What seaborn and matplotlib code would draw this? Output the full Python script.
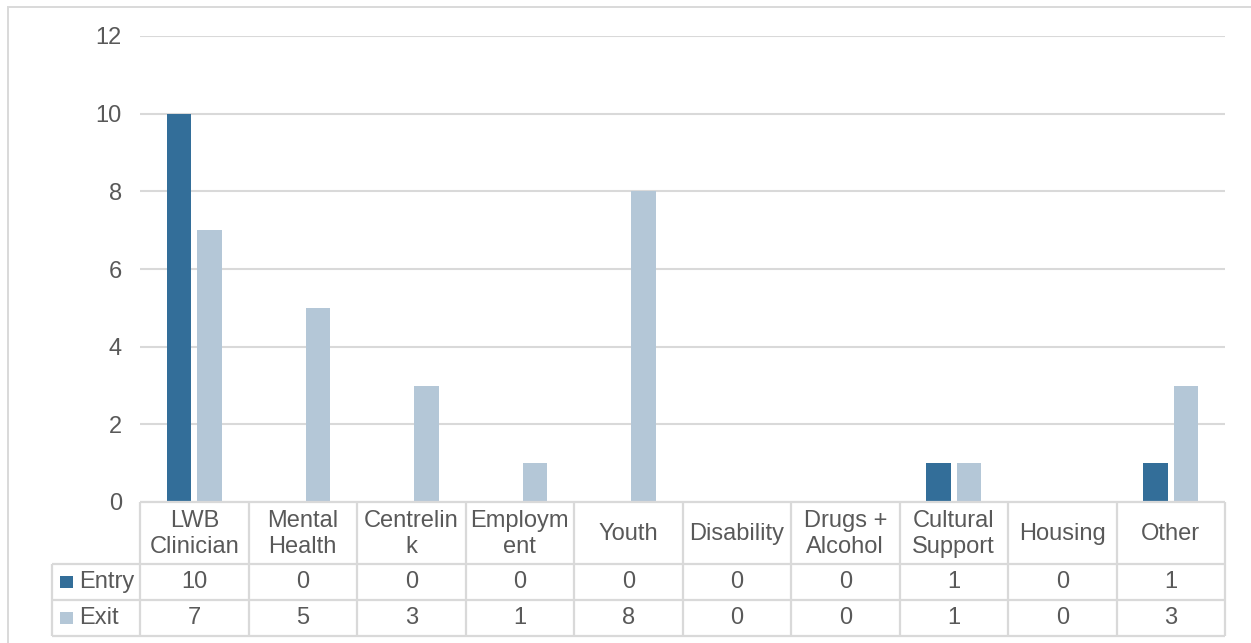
import matplotlib
matplotlib.use("Agg")
import matplotlib.pyplot as plt
from matplotlib.patches import Rectangle
from matplotlib.transforms import blended_transform_factory
import pandas as pd
import seaborn as sns

# Service categories and counts at entry / exit
categories = ["LWB\nClinician", "Mental\nHealth", "Centrelin\nk", "Employm\nent", "Youth",
              "Disability", "Drugs +\nAlcohol", "Cultural\nSupport", "Housing", "Other"]
series_names = ["Entry", "Exit"]
entry_values = [10, 0, 0, 0, 0, 0, 0, 1, 0, 1]
exit_values = [7, 5, 3, 1, 8, 0, 0, 1, 0, 3]
y_ticks = [0, 2, 4, 6, 8, 10, 12]

colors = {"Entry": "#336E99", "Exit": "#B4C7D7"}
text_color = "#595959"
line_color = "#D9D9D9"
fs = 17

df = pd.DataFrame({
    "category": categories * 2,
    "series": [series_names[0]] * len(categories) + [series_names[1]] * len(categories),
    "value": entry_values + exit_values,
})

sns.set_theme(style="white")
plt.rcParams["font.family"] = ["Liberation Sans", "DejaVu Sans"]

W, H = 1251, 643
fig = plt.figure(figsize=(W / 100, H / 100), dpi=100)

# plot area in pixel terms
left_px, right_px, top_px, base_px = 140, 1225, 36, 502
ax = fig.add_axes([left_px / W, 1 - base_px / H, (right_px - left_px) / W, (base_px - top_px) / H])

sns.barplot(data=df, x="category", y="value", hue="series", hue_order=series_names,
            palette=colors, saturation=1, width=0.5625, gap=0.2, linewidth=0, ax=ax,
            legend=False)

ax.set_ylim(0, 12)
ax.set_xlim(-0.5, len(categories) - 0.5)
ax.set_yticks(y_ticks)
ax.set_yticklabels([str(t) for t in y_ticks], fontsize=fs, color=text_color)
ax.tick_params(axis="y", length=0, pad=13)
ax.set_xticks([])
ax.set_xlabel("")
ax.set_ylabel("")
for s in ax.spines.values():
    s.set_visible(False)
ax.yaxis.grid(True, color=line_color, linewidth=1.5)
ax.set_axisbelow(True)

# data table below the plot
ah = base_px - top_px
def ay(py):
    return (base_px - py) / ah

def ax_x(px):
    return (px - left_px) / (right_px - left_px)

tr = blended_transform_factory(ax.transData, ax.transAxes)
n = len(categories)
y_hdr, y_r1, y_r2 = ay(564), ay(600), ay(635.5)
lw = 1.6
line_kw = dict(color=line_color, linewidth=lw, clip_on=False, solid_capstyle="butt")

# horizontal rules
ax.plot([-0.5, n - 0.5], [0, 0], transform=tr, **line_kw)
for yy in (y_hdr, y_r1, y_r2):
    ax.plot([ax_x(52), 1], [yy, yy], transform=ax.transAxes, **line_kw)
# vertical rules
for i in range(n + 1):
    ax.plot([i - 0.5, i - 0.5], [0, y_r2], transform=tr, **line_kw)
ax.plot([ax_x(52), ax_x(52)], [y_hdr, y_r2], transform=ax.transAxes, **line_kw)

# header labels and values
y_hdr_c = ay(534)
row_centers = [ay(582), ay(618)]
for i, cat in enumerate(categories):
    ax.text(i, y_hdr_c, cat, transform=tr, ha="center", va="center", fontsize=fs,
            color=text_color, linespacing=1.25, clip_on=False)
    for vals, yc in zip((entry_values, exit_values), row_centers):
        ax.text(i, yc, str(vals[i]), transform=tr, ha="center", va="center", fontsize=fs,
                color=text_color, clip_on=False)

# legend keys inside the table
for name, yc in zip(series_names, row_centers):
    ax.add_patch(Rectangle((ax_x(60), yc - 6 / ah), 12.5 / (right_px - left_px), 12 / ah,
                           transform=ax.transAxes, facecolor=colors[name], edgecolor="none",
                           clip_on=False))
    ax.text(ax_x(79), yc, name, transform=ax.transAxes, ha="left", va="center", fontsize=fs,
            color=text_color, clip_on=False)

# chart frame
fig.patches.append(Rectangle((7.5 / W, -0.1), 1.2, 1 - 6.5 / H + 0.1, transform=fig.transFigure,
                             facecolor="none", edgecolor=line_color, linewidth=1.4))

fig.savefig("out.png", dpi=100, facecolor="white")
